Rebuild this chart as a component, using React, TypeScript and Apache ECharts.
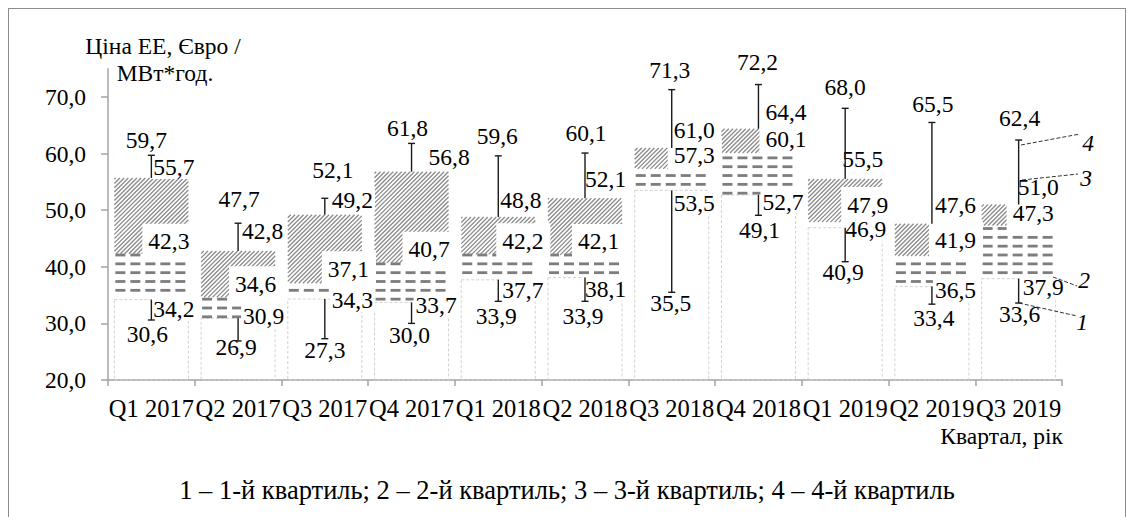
import React, { useEffect, useRef } from 'react';
import * as echarts from 'echarts';

// ---------- data ----------
const categories = ['Q1 2017', 'Q2 2017', 'Q3 2017', 'Q4 2017', 'Q1 2018', 'Q2 2018', 'Q3 2018', 'Q4 2018', 'Q1 2019', 'Q2 2019', 'Q3 2019'];
const minValues = [30.6, 26.9, 27.3, 30.0, 33.9, 33.9, 35.5, 49.1, 40.9, 33.4, 33.6];
const q1Values = [34.2, 30.9, 34.3, 33.7, 37.7, 38.1, 53.5, 52.7, 46.9, 36.5, 37.9];
const medianValues = [42.3, 34.6, 37.1, 40.7, 42.2, 42.1, 57.3, 60.1, 47.9, 41.9, 47.3];
const q3Values = [55.7, 42.8, 49.2, 56.8, 48.8, 52.1, 61.0, 64.4, 55.5, 47.6, 51.0];
const maxValues = [59.7, 47.7, 52.1, 61.8, 59.6, 60.1, 71.3, 72.2, 68.0, 65.5, 62.4];
const yTicks = [20, 30, 40, 50, 60, 70];
const Y_MIN = 20;
const Y_MAX = 75;

const yAxisTitle = ['Ціна ЕЕ, Євро /', 'МВт*год.'];
const xAxisTitle = 'Квартал, рік';
const legendText = '1 – 1-й квартиль; 2 – 2-й квартиль; 3 – 3-й квартиль; 4 – 4-й квартиль';
const quartileMarks = ['4', '3', '2', '1'];

// ---------- label layout nudges (px) ----------
const MAX_LABEL_DX = [-5, 1, 8, -4, -1, 1, -2, -1, 0, 1, 1];
const MAX_LABEL_DY = [-15, -24, -28, -15, -20, -20, -20, -23, -21, -18, -22];
const Q3_LABEL_DX = [2, 4, 7, 17, 2, 0, 2, 7, -3, 3, -1];
const Q3_LABEL_DY = [-11, -20, -15, -15, -17, -19, -18, -17, -20, -19, -18];
const MED_LABEL_DX = [-3, -3, 3, -3, 4, -7, 2, 7, 2, 3, -6];
const MED_LABEL_DY = [-10, -11, -12, -11, -11, -11, -11, -12, -15, -14, -10];
const Q1_LABEL_DX = [2, 5, 7, 4, 4, 0, 2, 4, 0, 3, 4];
const Q1_LABEL_DY = [9, -2, 1, 3, 10, 11, 13, 7, 1, 3, 8];
const MIN_LABEL_DX = [-4, -2, 0, -2, -2, -2, -1, 1, -2, 2, 1];
const MIN_LABEL_DY = [14, 6, 11, 12, 15, 15, 11, 15, 10, 14, 11];

// ---------- styles ----------
const FONT = 'Liberation Serif, Times New Roman, serif';
const FS = 23.5;
const FS_X = 24.5;
const FS_LEGEND = 26.5;
const AXIS_COLOR = '#a3a3a3';
const BAR_RATIO = 74 / 86.7;
const DASH_PERIOD_Y = 8.83;
const DASH_PHASE_Y = 0.87;
const HATCH_PERIOD = 4.24;
const CAP = 3.5;

const fmt = (v: number) => v.toFixed(1).replace('.', ',');

const boxData = categories.map((_, i) => [i, minValues[i], q1Values[i], medianValues[i], q3Values[i], maxValues[i]]);

function renderBox(params: any, api: any) {
  const i = api.value(0);
  const q1 = api.value(2);
  const med = api.value(3);
  const q3 = api.value(4);
  const p1 = api.coord([i, q1]);
  const cx = p1[0];
  const yQ1 = p1[1];
  const yMed = api.coord([i, med])[1];
  const yQ3 = api.coord([i, q3])[1];
  const yBase = api.coord([i, Y_MIN])[1];
  const bw = api.size([1, 0])[0] * BAR_RATIO;
  const L = cx - bw / 2;
  const R = cx + bw / 2;
  const top = params.coordSys.y;
  const children: any[] = [];
  children.push({
    type: 'rect',
    shape: { x: L, y: yQ1, width: bw, height: yBase - yQ1 },
    style: { fill: 'none', stroke: '#d2d2d2', lineWidth: 1, lineDash: [3, 2] },
  });
  for (let k = 0; k < 200; k++) {
    const yy = top + DASH_PHASE_Y + DASH_PERIOD_Y * k;
    if (yy > yQ1 - 1) break;
    if (yy < yMed) continue;
    for (let xx = L + 1; xx < R - 1; xx += 15) {
      const w = Math.min(10, R - xx);
      children.push({
        type: 'rect',
        shape: { x: xx, y: yy - 1.4, width: w, height: 2.8 },
        style: { fill: '#7d7d7d' },
      });
    }
  }
  const T = yQ3;
  const B = yMed;
  const cStart = Math.ceil((L + T) / HATCH_PERIOD) * HATCH_PERIOD;
  for (let c = cStart; c < R + B; c += HATCH_PERIOD) {
    const x1 = Math.max(L, c - B);
    const x2 = Math.min(R, c - T);
    if (x2 - x1 > 0.3) {
      children.push({
        type: 'line',
        shape: { x1, y1: c - x1, x2, y2: c - x2 },
        style: { stroke: '#8a8a8a', lineWidth: 1.3 },
      });
    }
  }
  return { type: 'group', children };
}

function renderWhisker(_params: any, api: any) {
  const i = api.value(0);
  const pMin = api.coord([i, api.value(1)]);
  const cx = pMin[0];
  const yMin = pMin[1];
  const yQ1 = api.coord([i, api.value(2)])[1];
  const yQ3 = api.coord([i, api.value(4)])[1];
  const yMax = api.coord([i, api.value(5)])[1];
  const st = { stroke: '#1a1a1a', lineWidth: 1.4 };
  return {
    type: 'group',
    children: [
      { type: 'line', shape: { x1: cx, y1: yQ3, x2: cx, y2: yMax }, style: st },
      { type: 'line', shape: { x1: cx - CAP, y1: yMax, x2: cx + CAP, y2: yMax }, style: st },
      { type: 'line', shape: { x1: cx, y1: yQ1, x2: cx, y2: yMin }, style: st },
      { type: 'line', shape: { x1: cx - CAP, y1: yMin, x2: cx + CAP, y2: yMin }, style: st },
    ],
  };
}

function makeText(text: string, x: number, y: number, align: string, padding: number[]) {
  const [pt, pr, pb, pl] = padding;
  const bx = align === 'left' ? x - pl : x + (pr - pl) / 2;
  const by = y - (pt - pb) / 2;
  return {
    type: 'text',
    x: bx,
    y: by,
    style: {
      text,
      fill: '#000',
      fontSize: FS,
      fontFamily: FONT,
      align,
      textAlign: align,
      verticalAlign: 'middle',
      textVerticalAlign: 'middle',
      backgroundColor: '#fff',
      padding,
    },
  };
}

function renderLabels(_params: any, api: any) {
  const i = api.value(0);
  const cx = api.coord([i, minValues[i]])[0];
  const yOf = (v: number) => api.coord([i, v])[1];
  const small = [0, 2, 0, 2];
  const medPad = [8, 7, 3, 6];
  // median label first so that its white box stays beneath the other labels
  return {
    type: 'group',
    children: [
      makeText(fmt(api.value(3)), cx + MED_LABEL_DX[i], yOf(api.value(3)) + MED_LABEL_DY[i], 'left', medPad),
      makeText(fmt(api.value(2)), cx + Q1_LABEL_DX[i], yOf(api.value(2)) + Q1_LABEL_DY[i], 'left', small),
      makeText(fmt(api.value(1)), cx + MIN_LABEL_DX[i], yOf(api.value(1)) + MIN_LABEL_DY[i], 'center', small),
      makeText(fmt(api.value(4)), cx + Q3_LABEL_DX[i], yOf(api.value(4)) + Q3_LABEL_DY[i], 'left', small),
      makeText(fmt(api.value(5)), cx + MAX_LABEL_DX[i], yOf(api.value(5)) + MAX_LABEL_DY[i], 'center', small),
    ],
  };
}

const textStyle = (extra: any) => ({ fill: '#000', fontSize: FS, fontFamily: FONT, ...extra });

const leader = (x1: number, y1: number, x2: number, y2: number) => ({
  type: 'line',
  z: 100,
  shape: { x1, y1, x2, y2 },
  style: { stroke: '#333', lineWidth: 1, lineDash: [4, 2] },
});

const centered = { align: 'center', textAlign: 'center', verticalAlign: 'middle', textVerticalAlign: 'middle' };

const option: any = {
  animation: false,
  textStyle: { fontFamily: FONT, fontSize: FS, color: '#000' },
  grid: { left: 99, top: 59.7, width: 954, height: 311.3, containLabel: false },
  xAxis: {
    type: 'category',
    data: categories,
    boundaryGap: true,
    axisLine: { show: true, lineStyle: { color: AXIS_COLOR, width: 1.5 } },
    axisTick: { show: true, length: 6, inside: false, lineStyle: { color: AXIS_COLOR, width: 1.5 } },
    axisLabel: { interval: 0, margin: 16, fontSize: FS_X, fontFamily: FONT, color: '#000' },
    splitLine: { show: false },
  },
  yAxis: {
    type: 'value',
    min: Y_MIN,
    max: Y_MAX,
    interval: 10,
    axisLine: { show: true, lineStyle: { color: AXIS_COLOR, width: 1.5 } },
    axisTick: { show: true, length: 7, customValues: yTicks, lineStyle: { color: AXIS_COLOR, width: 1.5 } },
    axisLabel: {
      customValues: yTicks,
      margin: 22,
      fontSize: FS,
      fontFamily: FONT,
      color: '#000',
      formatter: (v: number) => (yTicks.indexOf(v) >= 0 ? fmt(v) : ''),
    },
    splitLine: { show: false },
  },
  series: [
    { type: 'custom', name: 'boxes', z: 2, clip: false, data: boxData, encode: { x: 0, y: [1, 2, 3, 4, 5] }, renderItem: renderBox },
    { type: 'custom', name: 'labels', z: 3, clip: false, data: boxData, encode: { x: 0, y: [1, 2, 3, 4, 5] }, renderItem: renderLabels },
    { type: 'custom', name: 'whiskers', z: 4, clip: false, data: boxData, encode: { x: 0, y: [1, 2, 3, 4, 5] }, renderItem: renderWhisker },
  ],
  graphic: [
    { type: 'text', x: 154, y: 36.5, style: textStyle({ text: yAxisTitle[0], ...centered }) },
    { type: 'text', x: 156, y: 63.5, style: textStyle({ text: yAxisTitle[1], ...centered }) },
    { type: 'text', x: 1054, y: 427, style: textStyle({ text: xAxisTitle, align: 'right', textAlign: 'right', verticalAlign: 'middle', textVerticalAlign: 'middle' }) },
    { type: 'text', x: 558, y: 481, style: textStyle({ text: legendText, fontSize: FS_LEGEND, ...centered }) },
    leader(1012, 136, 1071, 125),
    leader(1013, 171, 1069, 165),
    leader(1044, 268, 1068, 277),
    leader(1010, 294, 1068, 307),
    { type: 'text', z: 100, x: 1079, y: 134, style: textStyle({ text: quartileMarks[0], fontStyle: 'italic', ...centered }) },
    { type: 'text', z: 100, x: 1077, y: 169, style: textStyle({ text: quartileMarks[1], fontStyle: 'italic', ...centered }) },
    { type: 'text', z: 100, x: 1075, y: 271, style: textStyle({ text: quartileMarks[2], fontStyle: 'italic', ...centered }) },
    { type: 'text', z: 100, x: 1073, y: 313, style: textStyle({ text: quartileMarks[3], fontStyle: 'italic', ...centered }) },
  ],
};

export default function App() {
  const ref = useRef<HTMLDivElement>(null);
  useEffect(() => {
    if (!ref.current) return;
    const chart = echarts.init(ref.current, null, { renderer: 'svg' });
    chart.setOption(option);
    return () => chart.dispose();
  }, []);
  return (
    <div style={{ width: 1116, height: 515, border: '1px solid #8c8c8c', position: 'relative', background: '#fff' }}>
      <div ref={ref} style={{ width: 1116, height: 515 }} />
    </div>
  );
}
